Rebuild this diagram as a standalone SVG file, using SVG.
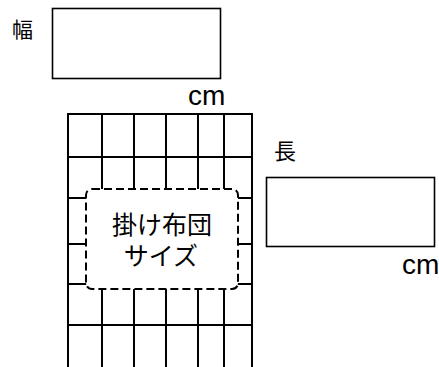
<svg xmlns="http://www.w3.org/2000/svg" width="439" height="367" viewBox="0 0 439 367">
<style>
.box{fill:#fff;stroke:#000;stroke-width:1.6}
.grid{stroke:#000;stroke-width:2;fill:none}
.dash{fill:#fff;stroke:#000;stroke-width:2;stroke-dasharray:8 4}
.jp{font-family:"Noto Sans CJK JP","Noto Sans",sans-serif;fill:#000}
.cm{font-family:"Liberation Sans",Arial,sans-serif;font-size:28px;fill:#000}
</style>
<rect width="439" height="367" fill="#fff"/>
<g id="width-input">
<text class="jp" x="12" y="37" font-size="21">幅</text>
<rect class="box" x="52.5" y="8.5" width="168" height="70"/>
<text class="cm" x="188" y="104.5">cm</text>
</g>
<g id="futon-grid">
<path class="grid" d="M68,367V114H252V367M102,114V367M134,114V367M166,114V367M198,114V367M224,114V367M68,157H252M68,198H252M68,244H252M68,284H252M68,325H252"/>
</g>
<g id="futon-size">
<rect class="dash" x="86" y="189" width="152" height="100" rx="6"/>
<text class="jp" font-size="25" text-anchor="middle"><tspan x="162" y="234">掛け布団</tspan><tspan x="161" y="265">サイズ</tspan></text>
</g>
<g id="length-input">
<text class="jp" x="274" y="159" font-size="22">長</text>
<rect class="box" x="266.5" y="177.5" width="168" height="69"/>
<text class="cm" x="402" y="274">cm</text>
</g>
</svg>
